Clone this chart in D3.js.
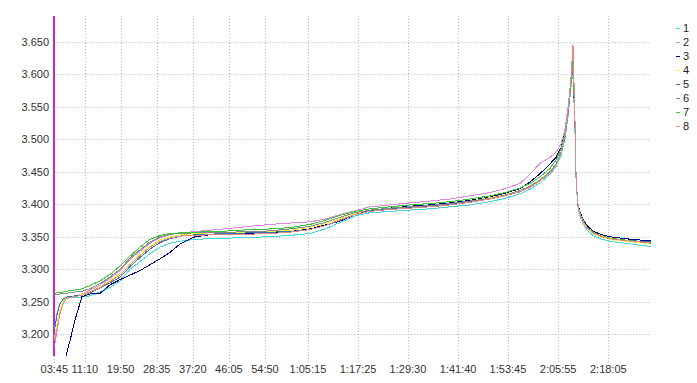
<!DOCTYPE html>
<html><head><meta charset="utf-8">
<script src="https://cdn.jsdelivr.net/npm/d3@7"></script>
<style>
html,body{margin:0;padding:0;background:#fff;}
svg{display:block;font-family:"Liberation Sans",Arial,sans-serif;}
</style></head>
<body><svg id="c" width="697" height="383"></svg>
<script>
// time in seconds
const times = [225,264,308,352,395,453,526,628,744,890,1035,1181,1326,1472,1617,1763,1908,2054,2272,2490,2781,3072,3363,3654,3945,4163,4381,4600,4818,5109,5400,5691,5982,6273,6564,6782,7000,7145,7291,7436,7524,7597,7655,7699,7742,7771,7800,7815,7829,7844,7873,7917,7975,8062,8164,8309,8527,8745,8906];
const seriesNames = ["1","2","3","4","5","6","7","8"];
const seriesColors = ["#40d8d8","#dd88dd","#000080","#eeee44","#3377aa","#888888","#33cc33","#e08888"];
const s1 = [3.208,3.232,3.248,3.253,3.255,3.256,3.256,3.257,3.259,3.265,3.272,3.282,3.300,3.312,3.324,3.334,3.340,3.343,3.346,3.347,3.348,3.349,3.350,3.352,3.355,3.362,3.372,3.382,3.387,3.389,3.391,3.393,3.396,3.399,3.404,3.409,3.416,3.423,3.433,3.446,3.458,3.475,3.500,3.535,3.580,3.605,3.510,3.440,3.415,3.396,3.382,3.370,3.360,3.352,3.347,3.343,3.340,3.337,3.335];
const s2 = [3.180,3.205,3.232,3.248,3.254,3.257,3.258,3.262,3.268,3.276,3.286,3.298,3.315,3.328,3.340,3.348,3.353,3.356,3.358,3.360,3.363,3.366,3.369,3.371,3.373,3.377,3.384,3.390,3.396,3.399,3.402,3.405,3.408,3.413,3.418,3.424,3.432,3.446,3.463,3.472,3.480,3.493,3.515,3.550,3.590,3.612,3.525,3.445,3.418,3.399,3.386,3.374,3.365,3.357,3.352,3.348,3.345,3.343,3.342];
const s3 = [3.090,3.105,3.125,3.148,3.167,3.190,3.222,3.258,3.262,3.263,3.276,3.284,3.291,3.298,3.307,3.316,3.326,3.339,3.350,3.353,3.354,3.355,3.356,3.358,3.362,3.368,3.374,3.384,3.390,3.394,3.397,3.399,3.402,3.406,3.411,3.417,3.424,3.434,3.447,3.462,3.472,3.487,3.510,3.545,3.590,3.610,3.520,3.445,3.420,3.400,3.388,3.377,3.367,3.359,3.354,3.350,3.347,3.345,3.345];
const s4 = [3.195,3.215,3.238,3.250,3.255,3.258,3.259,3.261,3.266,3.273,3.283,3.294,3.310,3.324,3.336,3.345,3.350,3.353,3.355,3.356,3.356,3.357,3.358,3.360,3.364,3.370,3.378,3.386,3.391,3.394,3.396,3.398,3.401,3.405,3.410,3.415,3.421,3.428,3.438,3.450,3.462,3.480,3.505,3.540,3.585,3.615,3.520,3.445,3.418,3.398,3.384,3.372,3.363,3.355,3.350,3.346,3.343,3.341,3.339];
const s5 = [3.205,3.230,3.247,3.254,3.257,3.258,3.259,3.260,3.264,3.271,3.279,3.288,3.304,3.318,3.331,3.341,3.347,3.351,3.353,3.354,3.355,3.356,3.357,3.358,3.361,3.367,3.375,3.384,3.390,3.393,3.395,3.397,3.400,3.404,3.408,3.413,3.419,3.426,3.436,3.449,3.461,3.478,3.503,3.540,3.585,3.612,3.520,3.445,3.418,3.398,3.385,3.373,3.364,3.357,3.352,3.348,3.345,3.343,3.343];
const s6 = [3.260,3.261,3.262,3.263,3.263,3.264,3.265,3.266,3.270,3.278,3.288,3.300,3.317,3.330,3.342,3.350,3.354,3.355,3.356,3.357,3.357,3.358,3.359,3.362,3.366,3.372,3.380,3.387,3.391,3.394,3.396,3.398,3.401,3.405,3.409,3.414,3.421,3.428,3.437,3.450,3.462,3.480,3.505,3.540,3.585,3.615,3.520,3.445,3.418,3.398,3.385,3.373,3.364,3.356,3.351,3.347,3.344,3.342,3.341];
const s7 = [3.263,3.264,3.265,3.265,3.266,3.267,3.268,3.270,3.275,3.282,3.292,3.305,3.320,3.334,3.346,3.352,3.355,3.356,3.357,3.358,3.359,3.361,3.362,3.364,3.369,3.375,3.383,3.389,3.393,3.396,3.399,3.401,3.404,3.408,3.413,3.418,3.425,3.432,3.442,3.455,3.468,3.485,3.510,3.545,3.590,3.625,3.530,3.450,3.420,3.400,3.386,3.375,3.365,3.357,3.352,3.348,3.345,3.342,3.340];
const s8 = [3.190,3.208,3.232,3.247,3.254,3.257,3.258,3.260,3.265,3.272,3.281,3.291,3.307,3.321,3.334,3.343,3.348,3.351,3.352,3.353,3.353,3.354,3.355,3.357,3.361,3.367,3.376,3.384,3.389,3.392,3.394,3.396,3.399,3.403,3.408,3.413,3.419,3.426,3.436,3.448,3.460,3.478,3.505,3.545,3.595,3.645,3.530,3.448,3.420,3.400,3.386,3.374,3.364,3.356,3.351,3.347,3.344,3.342,3.341];
const seriesValues = [s1,s2,s3,s4,s5,s6,s7,s8];
const xTickLabels = ["03:45","11:10","19:50","28:35","37:20","46:05","54:50","1:05:15","1:17:25","1:29:30","1:41:40","1:53:45","2:05:55","2:18:05"];
const yTicks = [3.20,3.25,3.30,3.35,3.40,3.45,3.50,3.55,3.60,3.65];

function toSec(s){return s.split(":").map(Number).reduce((a,b)=>a*60+b,0);}
const xTickSecs = xTickLabels.map(toSec);

const L=54.3, R=651, T=16, B=356;
const svg = d3.select("#c");
const x = d3.scaleLinear().domain([225, 8906]).range([L, R]);
const y = d3.scaleLinear().domain([3.1666, 3.6895]).range([B, T]);

// grid
const g = svg.append("g");
g.selectAll("line.h").data(yTicks).join("line")
  .attr("x1",L).attr("x2",R)
  .attr("y1",d=>Math.round(y(d))+0.5).attr("y2",d=>Math.round(y(d))+0.5)
  .attr("stroke","#b8b8b8").attr("stroke-dasharray","1,2");
g.selectAll("line.v").data(xTickSecs.slice(1)).join("line")
  .attr("x1",d=>Math.round(x(d))+0.5).attr("x2",d=>Math.round(x(d))+0.5)
  .attr("y1",T).attr("y2",B+7)
  .attr("stroke","#b8b8b8").attr("stroke-dasharray","1,2");
// tick at first position below axis
svg.append("line").attr("x1",Math.round(x(xTickSecs[0]))+0.5).attr("x2",Math.round(x(xTickSecs[0]))+0.5)
  .attr("y1",B).attr("y2",B+7).attr("stroke","#b8b8b8").attr("stroke-dasharray","1,2");

// y labels
svg.append("g").selectAll("text").data(yTicks).join("text")
  .attr("x",49).attr("y",d=>y(d)+4).attr("text-anchor","end")
  .attr("font-size",11).attr("fill","#333").text(d3.format(".3f"));
// x labels
svg.append("g").selectAll("text").data(xTickSecs).join("text")
  .attr("x",d=>x(d)).attr("y",373).attr("text-anchor","middle")
  .attr("font-size",11).attr("fill","#333").text((d,i)=>xTickLabels[i]);

// clip
svg.append("clipPath").attr("id","clip").append("rect")
  .attr("x",L).attr("y",T).attr("width",R-L+1).attr("height",B-T);

// y axis line
svg.append("line").attr("x1",54).attr("x2",54).attr("y1",T).attr("y2",B)
  .attr("stroke","#cc22cc").attr("stroke-width",2);

const line = d3.line().x((d,i)=>x(times[i])).y(d=>y(d));
const lg = svg.append("g").attr("clip-path","url(#clip)");
seriesValues.forEach((vals,k)=>{
  lg.append("path").datum(vals).attr("d",line)
    .attr("fill","none").attr("stroke",seriesColors[k]).attr("stroke-width",1)
    .attr("shape-rendering","crispEdges");
});

// legend
const leg = svg.append("g");
seriesNames.forEach((n,k)=>{
  const cy = 28 + k*14;
  leg.append("line").attr("x1",676).attr("x2",680).attr("y1",cy+0.5).attr("y2",cy+0.5)
    .attr("stroke",seriesColors[k]).attr("stroke-width",1);
  leg.append("text").attr("x",683).attr("y",cy+4).attr("font-size",11).attr("fill","#222").text(n);
});
</script></body></html>
